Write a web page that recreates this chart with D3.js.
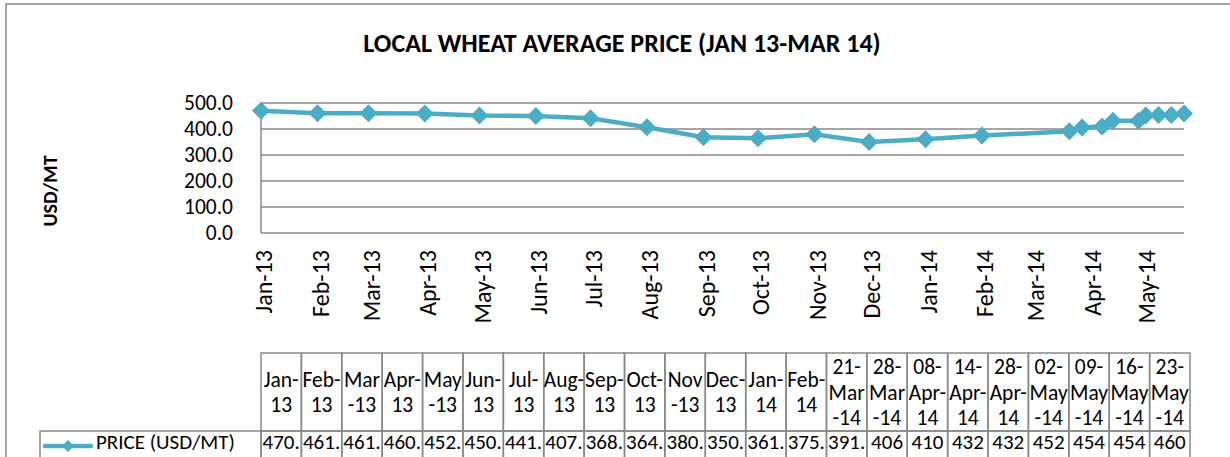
<!DOCTYPE html>
<html>
<head>
<meta charset="utf-8">
<script src="https://cdn.jsdelivr.net/npm/d3@7"></script>
<style>
  body { margin: 0; background: #fff; }
  text { font-family: Carlito, Lato, sans-serif; fill: #000; }
</style>
</head>
<body>
<script>
var dates = ["2013-01-01", "2013-02-01", "2013-03-01", "2013-04-01", "2013-05-01", "2013-06-01",
    "2013-07-01", "2013-08-01", "2013-09-01", "2013-10-01", "2013-11-01", "2013-12-01",
    "2014-01-01", "2014-02-01", "2014-03-21", "2014-03-28", "2014-04-08", "2014-04-14",
    "2014-04-28", "2014-05-02", "2014-05-09", "2014-05-16", "2014-05-23"];
var prices = [470, 461, 461, 460, 452, 450, 441, 407, 368, 364, 380, 350, 361, 375,
    391, 406, 410, 432, 432, 452, 454, 454, 460];
// what the data table shows (cells are too narrow for the decimals)
var priceLabels = ["470.", "461.", "461.", "460.", "452.", "450.", "441.", "407.", "368.", "364.",
    "380.", "350.", "361.", "375.", "391.", "406", "410", "432", "432", "452", "454", "454", "460"];
var headLabels = [["Jan-", "13"], ["Feb-", "13"], ["Mar", "-13"], ["Apr-", "13"], ["May", "-13"],
    ["Jun-", "13"], ["Jul-", "13"], ["Aug-", "13"], ["Sep-", "13"], ["Oct-", "13"], ["Nov", "-13"],
    ["Dec-", "13"], ["Jan-", "14"], ["Feb-", "14"], ["21-", "Mar", "-14"], ["28-", "Mar", "-14"],
    ["08-", "Apr-", "14"], ["14-", "Apr-", "14"], ["28-", "Apr-", "14"], ["02-", "May", "-14"],
    ["09-", "May", "-14"], ["16-", "May", "-14"], ["23-", "May", "-14"]];
var yTicks = [0, 100, 200, 300, 400, 500];
var seriesName = "PRICE (USD/MT)";

var W = 1230, H = 457;
var plot = { left: 261, right: 1184, top: 103, bottom: 233 };
var tbl = { left: 261, right: 1190, top: 353, mid: 431, bottom: 475, legendLeft: 40 };
var lineColor = "#4BACC6";
var gridColor = "#888";
var tableFont = "21px";
var rowY = 442;

var parse = d3.timeParse("%Y-%m-%d");
var data = dates.map(function (d, i) { return { date: parse(d), price: prices[i] }; });

var svg = d3.select("body").append("svg")
    .attr("width", W)
    .attr("height", H);

svg.append("rect")
    .attr("x", 6).attr("y", 4)
    .attr("width", 1300).attr("height", 500)
    .attr("fill", "#fff")
    .attr("stroke", gridColor)
    .attr("stroke-width", 1.5);

svg.append("text")
    .attr("x", 622)
    .attr("y", 52)
    .attr("text-anchor", "middle")
    .style("font-weight", "bold")
    .style("font-size", "26px")
    .text("LOCAL WHEAT AVERAGE PRICE (JAN 13-MAR 14)");

var x = d3.scaleTime()
    .domain([parse("2013-01-01"), parse("2014-05-23")])
    .range([plot.left, plot.right]);
var y = d3.scaleLinear()
    .domain([0, 500])
    .range([plot.bottom, plot.top]);

// gridlines
svg.selectAll("line.grid")
    .data(yTicks)
    .enter()
    .append("line")
    .attr("class", "grid")
    .attr("x1", plot.left)
    .attr("x2", plot.right)
    .attr("y1", function (d) { return y(d); })
    .attr("y2", function (d) { return y(d); })
    .attr("stroke", gridColor)
    .attr("stroke-width", 1.5);

svg.append("line")
    .attr("x1", plot.left).attr("x2", plot.left)
    .attr("y1", plot.top).attr("y2", plot.bottom)
    .attr("stroke", gridColor)
    .attr("stroke-width", 1.5);

var yAxis = d3.axisLeft(y)
    .tickValues(yTicks)
    .tickFormat(d3.format(".1f"))
    .tickSize(0)
    .tickPadding(28);

svg.append("g")
    .attr("transform", "translate(" + plot.left + ",0)")
    .call(yAxis)
    .call(function (g) { g.select(".domain").remove(); })
    .selectAll("text")
    .style("font-family", "Carlito, Lato, sans-serif")
    .style("font-size", "21.5px");

var xAxis = d3.axisBottom(x)
    .ticks(d3.timeMonth.every(1))
    .tickFormat(d3.timeFormat("%b-%y"))
    .tickSize(0);

svg.append("g")
    .attr("transform", "translate(0," + plot.bottom + ")")
    .call(xAxis)
    .call(function (g) { g.select(".domain").remove(); })
    .selectAll("text")
    .style("font-family", "Carlito, Lato, sans-serif")
    .style("font-size", "24px")
    .style("text-anchor", "end")
    .attr("x", -17)
    .attr("y", 0)
    .attr("dy", "0.45em")
    .attr("transform", "rotate(-90)");

svg.append("text")
    .attr("transform", "translate(57,191) rotate(-90)")
    .attr("text-anchor", "middle")
    .style("font-weight", "bold")
    .style("font-size", "20px")
    .text("USD/MT");

var line = d3.line()
    .x(function (d) { return x(d.date); })
    .y(function (d) { return y(d.price); });

svg.append("path")
    .datum(data)
    .attr("d", line)
    .attr("fill", "none")
    .attr("stroke", lineColor)
    .attr("stroke-width", 4.5);

var diamond = "M0,-9L9,0L0,9L-9,0Z";
svg.selectAll("path.marker")
    .data(data)
    .enter()
    .append("path")
    .attr("class", "marker")
    .attr("d", diamond)
    .attr("transform", function (d) { return "translate(" + x(d.date) + "," + y(d.price) + ")"; })
    .attr("fill", lineColor);

// data table
var col = d3.scaleBand()
    .domain(d3.range(prices.length))
    .range([tbl.left, tbl.right]);

var cells = svg.selectAll("g.col")
    .data(headLabels)
    .enter()
    .append("g")
    .attr("class", "col");

cells.append("rect")
    .attr("x", function (d, i) { return col(i); })
    .attr("y", tbl.top)
    .attr("width", col.bandwidth())
    .attr("height", tbl.mid - tbl.top)
    .attr("fill", "none")
    .attr("stroke", gridColor)
    .attr("stroke-width", 1.5);

cells.append("rect")
    .attr("x", function (d, i) { return col(i); })
    .attr("y", tbl.mid)
    .attr("width", col.bandwidth())
    .attr("height", tbl.bottom - tbl.mid)
    .attr("fill", "none")
    .attr("stroke", gridColor)
    .attr("stroke-width", 1.5);

var lh = 25.6;
cells.each(function (d, i) {
    var g = d3.select(this);
    var cx = col(i) + col.bandwidth() / 2;
    var y0 = (tbl.top + tbl.mid) / 2 - (d.length - 1) * lh / 2;
    d.forEach(function (s, k) {
        g.append("text")
            .attr("x", cx)
            .attr("y", y0 + k * lh)
            .attr("dy", "0.35em")
            .attr("text-anchor", "middle")
            .style("font-size", "21.5px")
            .text(s);
    });
    g.append("text")
        .attr("x", cx)
        .attr("y", rowY)
        .attr("dy", "0.35em")
        .attr("text-anchor", "middle")
        .style("font-size", tableFont)
        .text(priceLabels[i]);
});

// legend cell
svg.append("rect")
    .attr("x", tbl.legendLeft)
    .attr("y", tbl.mid)
    .attr("width", tbl.left - tbl.legendLeft)
    .attr("height", tbl.bottom - tbl.mid)
    .attr("fill", "none")
    .attr("stroke", gridColor)
    .attr("stroke-width", 1.5);

svg.append("line")
    .attr("x1", 45).attr("x2", 91)
    .attr("y1", 446).attr("y2", 446)
    .attr("stroke", lineColor)
    .attr("stroke-width", 4.5)
    .attr("stroke-linecap", "round");

svg.append("path")
    .attr("d", "M0,-6L6,0L0,6L-6,0Z")
    .attr("transform", "translate(68,446)")
    .attr("fill", lineColor);

svg.append("text")
    .attr("x", 96)
    .attr("y", rowY)
    .attr("dy", "0.35em")
    .style("font-size", tableFont)
    .text(seriesName);
</script>
</body>
</html>
